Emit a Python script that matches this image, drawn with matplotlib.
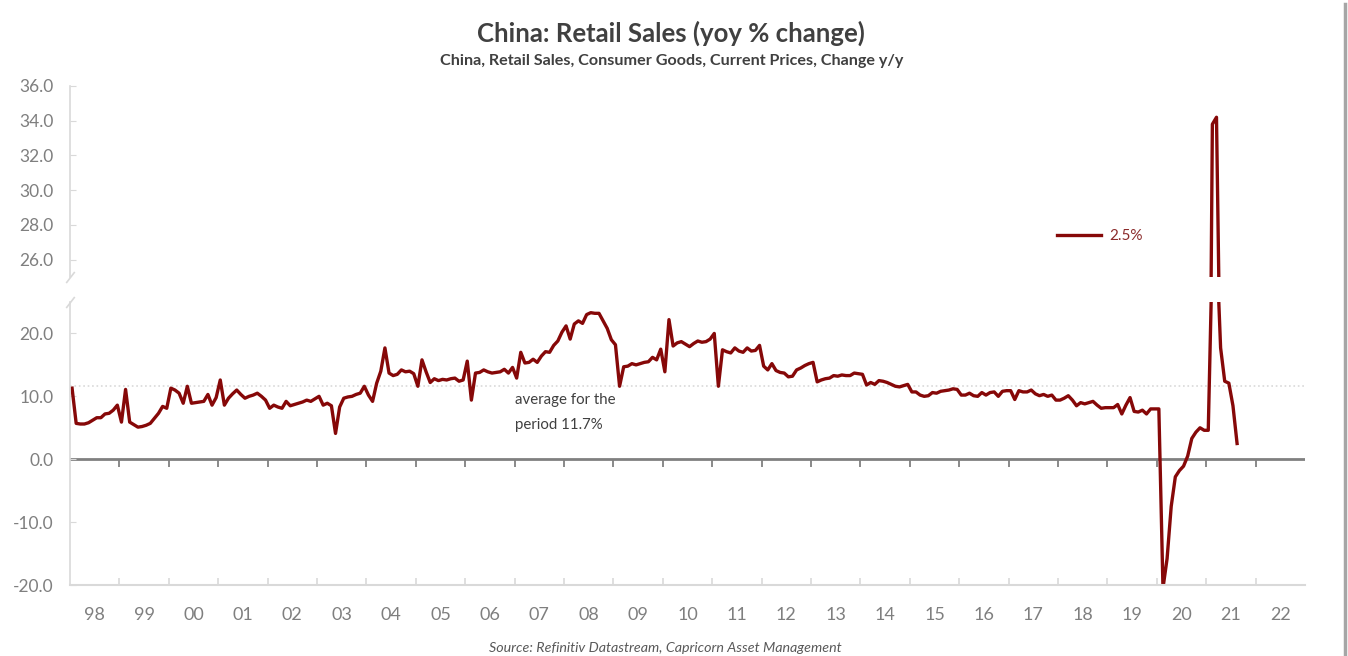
"""China retail sales yoy % change, broken y-axis line chart."""

import matplotlib

matplotlib.use("Agg")
import matplotlib.pyplot as plt
import numpy as np
from matplotlib.lines import Line2D
from matplotlib.markers import TICKDOWN
from matplotlib.ticker import FixedLocator, FormatStrFormatter

plt.rcParams["font.family"] = ["Lato", "DejaVu Sans"]

# monthly values, Jan..Dec per year
sales_1998 = [11.3, 5.7, 5.6, 5.6, 5.8, 6.2, 6.6, 6.6, 7.2, 7.3, 7.8, 8.6]
sales_1999 = [5.9, 11.1, 5.9, 5.5, 5.1, 5.2, 5.4, 5.7, 6.5, 7.3, 8.4, 8.1]
sales_2000 = [11.3, 11.0, 10.5, 8.9, 11.6, 8.9, 9.0, 9.1, 9.2, 10.3, 8.6, 9.8]
sales_2001 = [12.6, 8.6, 9.7, 10.4, 11.0, 10.3, 9.7, 10.0, 10.2, 10.5, 10.0, 9.4]
sales_2002 = [8.1, 8.6, 8.3, 8.1, 9.2, 8.5, 8.7, 8.9, 9.1, 9.4, 9.2, 9.6]
sales_2003 = [10.0, 8.6, 8.9, 8.5, 4.1, 8.3, 9.7, 9.9, 10.0, 10.3, 10.5, 11.6]
sales_2004 = [10.2, 9.2, 12.1, 14.0, 17.7, 13.7, 13.3, 13.5, 14.2, 13.9, 14.0, 13.6]
sales_2005 = [11.6, 15.8, 13.9, 12.2, 12.8, 12.5, 12.7, 12.6, 12.8, 12.9, 12.4, 12.6]
sales_2006 = [15.6, 9.4, 13.7, 13.8, 14.2, 13.9, 13.7, 13.8, 13.9, 14.3, 13.7, 14.6]
sales_2007 = [12.9, 17.0, 15.3, 15.4, 15.9, 15.4, 16.4, 17.1, 17.0, 18.1, 18.8, 20.2]
sales_2008 = [21.2, 19.1, 21.5, 22.0, 21.6, 23.0, 23.3, 23.2, 23.2, 22.0, 20.8, 19.0]
sales_2009 = [18.2, 11.6, 14.7, 14.8, 15.2, 15.0, 15.2, 15.4, 15.5, 16.2, 15.8, 17.5]
sales_2010 = [13.9, 22.2, 18.0, 18.5, 18.7, 18.3, 17.9, 18.4, 18.8, 18.6, 18.7, 19.1]
sales_2011 = [20.0, 11.6, 17.4, 17.1, 16.9, 17.7, 17.2, 17.0, 17.7, 17.2, 17.3, 18.1]
sales_2012 = [14.8, 14.2, 15.2, 14.1, 13.8, 13.7, 13.1, 13.2, 14.2, 14.5, 14.9, 15.2]
sales_2013 = [15.4, 12.3, 12.6, 12.8, 12.9, 13.3, 13.2, 13.4, 13.3, 13.3, 13.7, 13.6]
sales_2014 = [13.5, 11.8, 12.2, 11.9, 12.5, 12.4, 12.2, 11.9, 11.6, 11.5, 11.7, 11.9]
sales_2015 = [10.7, 10.7, 10.2, 10.0, 10.1, 10.6, 10.5, 10.8, 10.9, 11.0, 11.2, 11.1]
sales_2016 = [10.2, 10.2, 10.5, 10.1, 10.0, 10.6, 10.2, 10.6, 10.7, 10.0, 10.8, 10.9]
sales_2017 = [10.9, 9.5, 10.9, 10.7, 10.7, 11.0, 10.4, 10.1, 10.3, 10.0, 10.2, 9.4]
sales_2018 = [9.4, 9.7, 10.1, 9.4, 8.5, 9.0, 8.8, 9.0, 9.2, 8.6, 8.1, 8.2]
sales_2019 = [8.2, 8.2, 8.7, 7.2, 8.6, 9.8, 7.6, 7.5, 7.8, 7.2, 8.0, 8.0]
sales_2020 = [8.0, -20.5, -15.8, -7.5, -2.8, -1.8, -1.1, 0.5, 3.3, 4.3, 5.0, 4.6]
sales_2021 = [4.6, 33.8, 34.2, 17.7, 12.4, 12.1, 8.5, 2.5]

yearly = [
    sales_1998, sales_1999, sales_2000, sales_2001, sales_2002, sales_2003,
    sales_2004, sales_2005, sales_2006, sales_2007, sales_2008, sales_2009,
    sales_2010, sales_2011, sales_2012, sales_2013, sales_2014, sales_2015,
    sales_2016, sales_2017, sales_2018, sales_2019, sales_2020, sales_2021,
]
first_year = 1998
period_average = 11.7
latest_label = "2.5%"
year_labels = [f"{y % 100:02d}" for y in range(1998, 2023)]

values = np.array([v for year in yearly for v in year])
dates = np.array(
    [first_year + i + (m + 0.5) / 12 for i, year in enumerate(yearly) for m in range(len(year))]
)
year_starts = np.arange(1999, 2023)

W, H = 1348, 656
LINE = "#860808"
GRID = "#d9d9d9"
LABEL = "#7f7f7f"
ZERO = "#808080"

fig = plt.figure(figsize=(W / 100, H / 100), dpi=100, facecolor="white")
ax_lo = fig.add_axes([70 / W, (H - 585) / H, 1235 / W, 283 / H])
ax_hi = fig.add_axes([70 / W, (H - 277) / H, 1235 / W, 191 / H])

for ax in (ax_lo, ax_hi):
    ax.plot(dates, values, color=LINE, linewidth=2.4, solid_joinstyle="round", label=latest_label)
    ax.set_xlim(1998, 2023)
    ax.spines["right"].set_visible(False)
    ax.spines["top"].set_visible(False)
    ax.spines["left"].set_color(GRID)
    ax.spines["left"].set_linewidth(1.2)
    ax.tick_params(axis="y", direction="in", length=4, color=GRID, labelcolor=LABEL,
                   labelsize=12.5, pad=12)
    ax.yaxis.set_major_formatter(FormatStrFormatter("%.1f"))

ax_lo.set_ylim(-20, 25)
ax_lo.set_yticks([-20, -10, 0, 10, 20])
ax_hi.set_ylim(25, 36)
ax_hi.set_yticks(np.arange(26, 37, 2))

# upper panel: only the y axis
ax_hi.spines["bottom"].set_visible(False)
ax_hi.set_xticks([])

# lower panel: light line at -20 with inward ticks, year labels centred
ax_lo.spines["bottom"].set_color(GRID)
ax_lo.spines["bottom"].set_linewidth(1.5)
ax_lo.xaxis.set_major_locator(FixedLocator(year_starts))
ax_lo.xaxis.set_minor_locator(FixedLocator(np.arange(1998, 2023) + 0.5))
ax_lo.xaxis.set_major_formatter(plt.NullFormatter())
ax_lo.set_xticklabels(year_labels, minor=True)
ax_lo.tick_params(axis="x", which="major", direction="in", length=5, width=1.2, color=GRID)
ax_lo.tick_params(axis="x", which="minor", length=0, pad=16, labelsize=13, labelcolor=LABEL)

# zero line with downward year ticks
ax_lo.axhline(0, color=ZERO, linewidth=2, zorder=1)
ax_lo.plot(year_starts, np.zeros(len(year_starts)), linestyle="none", marker=TICKDOWN,
           markersize=6, mew=1.3, color=ZERO, zorder=1)

ax_lo.axhline(period_average, color=GRID, linestyle=":", linewidth=1.2, zorder=0)
ax_lo.text(2007.0, 7.4, f"average for the\nperiod {period_average}%", fontsize=10.8,
           color="#404040", va="center", ha="left", linespacing=2.0)

# axis-break marks
brk = dict(marker=[(-1, -1.3), (1, 1.3)], markersize=8, linestyle="none", color=GRID,
           mec=GRID, mew=1.2, clip_on=False)
ax_hi.plot([0], [0], transform=ax_hi.transAxes, **brk)
ax_lo.plot([0], [1], transform=ax_lo.transAxes, **brk)

handle = ax_hi.get_lines()[0]
fig.legend(handles=[handle], loc="center left", bbox_to_anchor=(1057 / W, 1 - 236 / H),
           frameon=False, fontsize=11, handlelength=2.9, handletextpad=0.5,
           borderpad=0, borderaxespad=0, labelcolor="#8b2a2a")

fig.text(671 / W, 1 - 33 / H, "China: Retail Sales (yoy % change)", ha="center", va="center",
         fontsize=18.5, fontweight="bold", color="#404040")
fig.text(672 / W, 1 - 61 / H, "China, Retail Sales, Consumer Goods, Current Prices, Change y/y",
         ha="center", va="center", fontsize=11.6, fontweight="bold", color="#404040")
fig.text(665 / W, 1 - 648 / H, "Source: Refinitiv Datastream, Capricorn Asset Management",
         ha="center", va="center", fontsize=10.3, style="italic", color="#595959")

fig.add_artist(Line2D([1345 / W, 1345 / W], [0, 1 - 4 / H], color="#a6a6a6", linewidth=2.5))

fig.savefig("out.png", dpi=100, facecolor="white")
